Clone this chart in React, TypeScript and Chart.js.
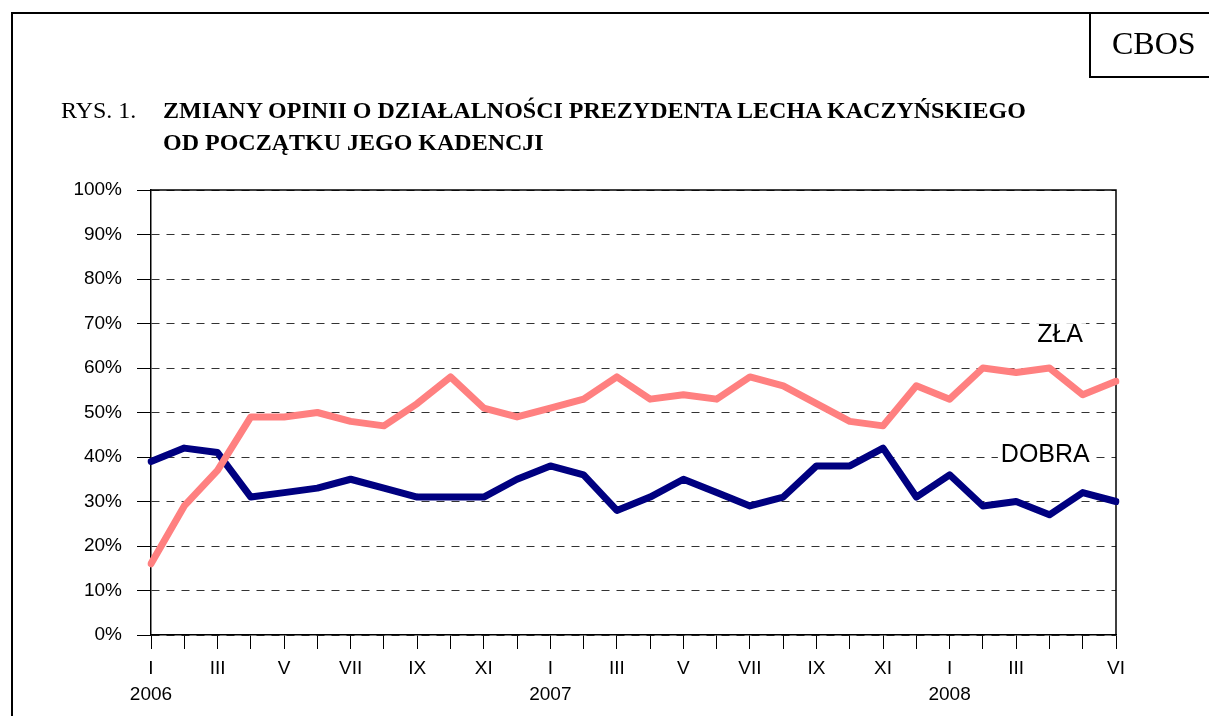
import React, { useEffect, useRef } from "react";
import { Chart, registerables } from "chart.js";

Chart.register(...registerables);

// Monthly surveys, I 2006 – VI 2008
const categories = [
  "2006-01", "2006-02", "2006-03", "2006-04", "2006-05", "2006-06",
  "2006-07", "2006-08", "2006-09", "2006-10", "2006-11", "2006-12",
  "2007-01", "2007-02", "2007-03", "2007-04", "2007-05", "2007-06",
  "2007-07", "2007-08", "2007-09", "2007-10", "2007-11", "2007-12",
  "2008-01", "2008-02", "2008-03", "2008-04", "2008-05", "2008-06",
];

const xTickLabels: (string | string[])[] = [
  ["I", "2006"], "", "III", "", "V", "", "VII", "", "IX", "", "XI", "",
  ["I", "2007"], "", "III", "", "V", "", "VII", "", "IX", "", "XI", "",
  ["I", "2008"], "", "III", "", "", "VI",
];

const zla = [
  16, 29, 37, 49, 49, 50, 48, 47, 52, 58, 51, 49,
  51, 53, 58, 53, 54, 53, 58, 56, 52, 48, 47, 56,
  53, 60, 59, 60, 54, 57,
];

const dobra = [
  39, 42, 41, 31, 32, 33, 35, 33, 31, 31, 31, 35,
  38, 36, 28, 31, 35, 32, 29, 31, 38, 38, 42, 31,
  36, 29, 30, 27, 32, 30,
];

const seriesNames = ["ZŁA", "DOBRA"];
// label anchors (category index, value) for in-chart series labels
const labelX = [26.63, 25.54];
const labelY = [65.8, 38.9];

const SANS = '"Liberation Sans", Arial, sans-serif';
const SERIF = '"Liberation Serif", "Times New Roman", serif';

const boxPlugin = {
  id: "plotBox",
  beforeDatasetsDraw(chart: any) {
    const { ctx, chartArea } = chart;
    ctx.save();
    ctx.strokeStyle = "#000";
    ctx.lineWidth = 1.5;
    ctx.beginPath();
    ctx.moveTo(chartArea.left, chartArea.top);
    ctx.lineTo(chartArea.right, chartArea.top);
    ctx.lineTo(chartArea.right, chartArea.bottom);
    ctx.stroke();
    ctx.restore();
  },
};

const labelPlugin = {
  id: "seriesLabels",
  afterDatasetsDraw(chart: any) {
    const { ctx } = chart;
    const x = chart.scales.x;
    const y = chart.scales.y;
    ctx.save();
    ctx.font = `25px ${SANS}`;
    ctx.textBaseline = "alphabetic";
    ctx.textAlign = "left";
    seriesNames.forEach((t, i) => {
      const px = x.getPixelForValue(labelX[i]);
      const py = y.getPixelForValue(labelY[i]);
      const w = ctx.measureText(t).width;
      ctx.fillStyle = "#fff";
      ctx.fillRect(px - 3, py - 19, w + 6, 20);
      ctx.fillStyle = "#000";
      ctx.fillText(t, px, py);
    });
    ctx.restore();
  },
};

export default function App() {
  const ref = useRef<HTMLCanvasElement | null>(null);

  useEffect(() => {
    if (!ref.current) return;
    const chart = new Chart(ref.current, {
      type: "line",
      data: {
        labels: categories,
        datasets: [
          {
            label: seriesNames[0],
            data: zla,
            borderColor: "#FF8080",
            borderWidth: 7,
            pointRadius: 0,
            tension: 0,
            borderCapStyle: "round",
            borderJoinStyle: "round",
            fill: false,
          },
          {
            label: seriesNames[1],
            data: dobra,
            borderColor: "#000080",
            borderWidth: 7,
            pointRadius: 0,
            tension: 0,
            borderCapStyle: "round",
            borderJoinStyle: "round",
            fill: false,
          },
        ],
      },
      options: {
        responsive: false,
        animation: false,
        events: [],
        layout: { padding: { top: 190, right: 93, left: 0, bottom: 0 } },
        plugins: {
          legend: { display: false },
          tooltip: { enabled: false },
          title: { display: false },
        },
        scales: {
          x: {
            offset: false,
            grid: {
              drawOnChartArea: false,
              drawTicks: true,
              tickLength: 14,
              color: "#000",
              tickColor: "#000",
              lineWidth: 1,
            },
            border: { color: "#000", width: 1.5 },
            ticks: {
              autoSkip: false,
              maxRotation: 0,
              minRotation: 0,
              padding: 6,
              color: "#000",
              font: { family: SANS, size: 19, lineHeight: 1.4 },
              callback: (_v: any, i: number) => xTickLabels[i],
            },
            afterFit: (s: any) => {
              s.height = 81;
            },
          },
          y: {
            min: 0,
            max: 100,
            grid: {
              color: "#333",
              lineWidth: 1,
              drawTicks: true,
              tickLength: 14,
              tickColor: "#000",
              tickBorderDash: [],
            },
            border: { color: "#000", width: 1.5, dash: [8, 7] },
            ticks: {
              stepSize: 10,
              padding: 15,
              color: "#000",
              font: { family: SANS, size: 19 },
              callback: (v: any) => `${v}%`,
            },
            afterFit: (s: any) => {
              s.width = 151;
            },
          },
        },
      },
      plugins: [boxPlugin, labelPlugin],
    } as any);
    return () => chart.destroy();
  }, []);

  return (
    <div
      style={{
        position: "absolute",
        left: 0,
        top: 0,
        width: 1209,
        height: 716,
        overflow: "hidden",
        background: "#fff",
      }}
    >
      <div
        style={{
          position: "absolute",
          left: 11,
          top: 12,
          width: 1400,
          height: 900,
          border: "2px solid #000",
          boxSizing: "border-box",
        }}
      />
      <div
        style={{
          position: "absolute",
          left: 1089,
          top: 12,
          width: 200,
          height: 66,
          border: "2px solid #000",
          boxSizing: "border-box",
          background: "#fff",
        }}
      />
      <canvas
        ref={ref}
        width={1209}
        height={716}
        style={{ position: "absolute", left: 0, top: 0, width: 1209, height: 716 }}
      />
      <div
        style={{
          position: "absolute",
          left: 1112,
          top: 27,
          fontFamily: SERIF,
          fontSize: 32,
          lineHeight: "32px",
          color: "#000",
          whiteSpace: "nowrap",
        }}
      >
        CBOS
      </div>
      <div
        style={{
          position: "absolute",
          left: 61,
          top: 94,
          fontFamily: SERIF,
          fontSize: 24,
          lineHeight: "32px",
          color: "#000",
          whiteSpace: "nowrap",
        }}
      >
        RYS. 1.
      </div>
      <div
        style={{
          position: "absolute",
          left: 163,
          top: 94,
          fontFamily: SERIF,
          fontSize: 24,
          fontWeight: "bold",
          lineHeight: "32px",
          color: "#000",
          whiteSpace: "nowrap",
        }}
      >
        ZMIANY OPINII O DZIAŁALNOŚCI PREZYDENTA LECHA KACZYŃSKIEGO
        <br />
        OD POCZĄTKU JEGO KADENCJI
      </div>
    </div>
  );
}
